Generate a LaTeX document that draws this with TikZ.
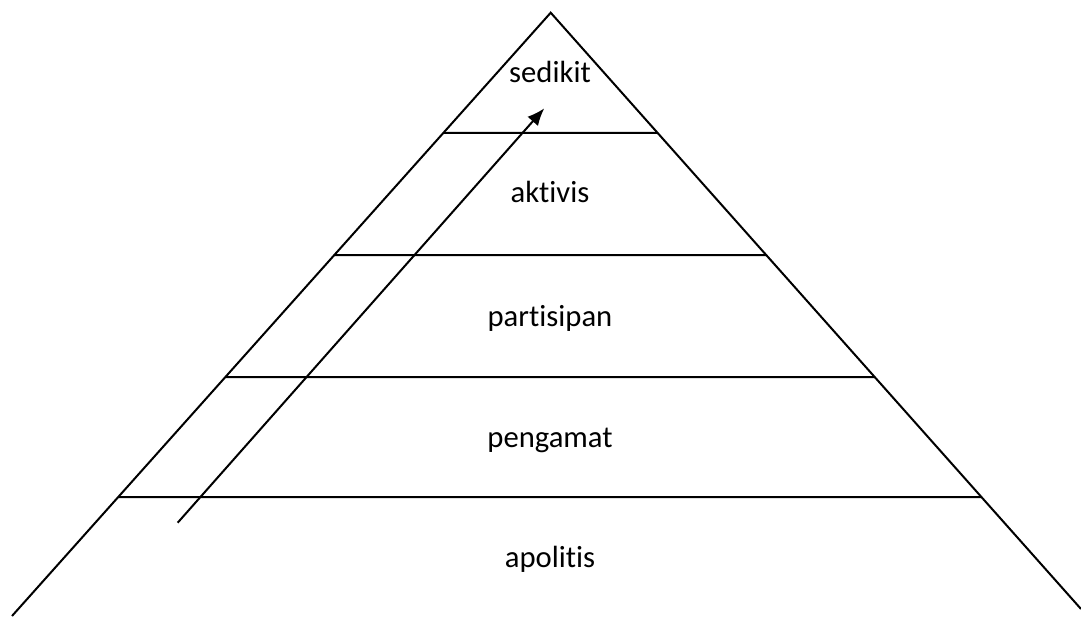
\documentclass[tikz,border=0pt]{standalone}
\usepackage{fontspec}
\setmainfont{Carlito}[RawFeature={-liga}]
\usetikzlibrary{calc,arrows.meta}

\begin{document}
\begin{tikzpicture}[
    x=0.75pt, y=-0.75pt,
    line width=1.5pt,
    level/.style={anchor=base, font=\fontsize{23}{28}\selectfont},
    climb/.style={-{Latex[length=13pt,width=10.5pt]}}
]
  \useasboundingbox (0,0) rectangle (1081,617);

  % pyramid
  \coordinate (apex) at (550.7,12.7);
  \coordinate (bl) at (12,616);
  \coordinate (br) at (1081,609);
  \draw (bl) -- (apex) -- (br);

  % dividing lines
  \foreach \y in {133,255,377,497}
    \draw ($(apex)!{(\y-12.7)/603.3}!(bl)$) -- ($(apex)!{(\y-12.7)/596.3}!(br)$);

  % labels
  \node[level] (sedikit) at (550,83) {sedikit};
  \node[level] (aktivis) at (550,202) {aktivis};
  \node[level] (partisipan) at (550,326) {partisipan};
  \node[level] (pengamat) at (550,447) {pengamat};
  \node[level] (apolitis) at (550,567) {apolitis};

  % arrow
  \coordinate (from) at (177.7,522.7);
  \coordinate (to) at (544.3,108.3);
  \draw[climb] (from) -- (to);
\end{tikzpicture}
\end{document}
